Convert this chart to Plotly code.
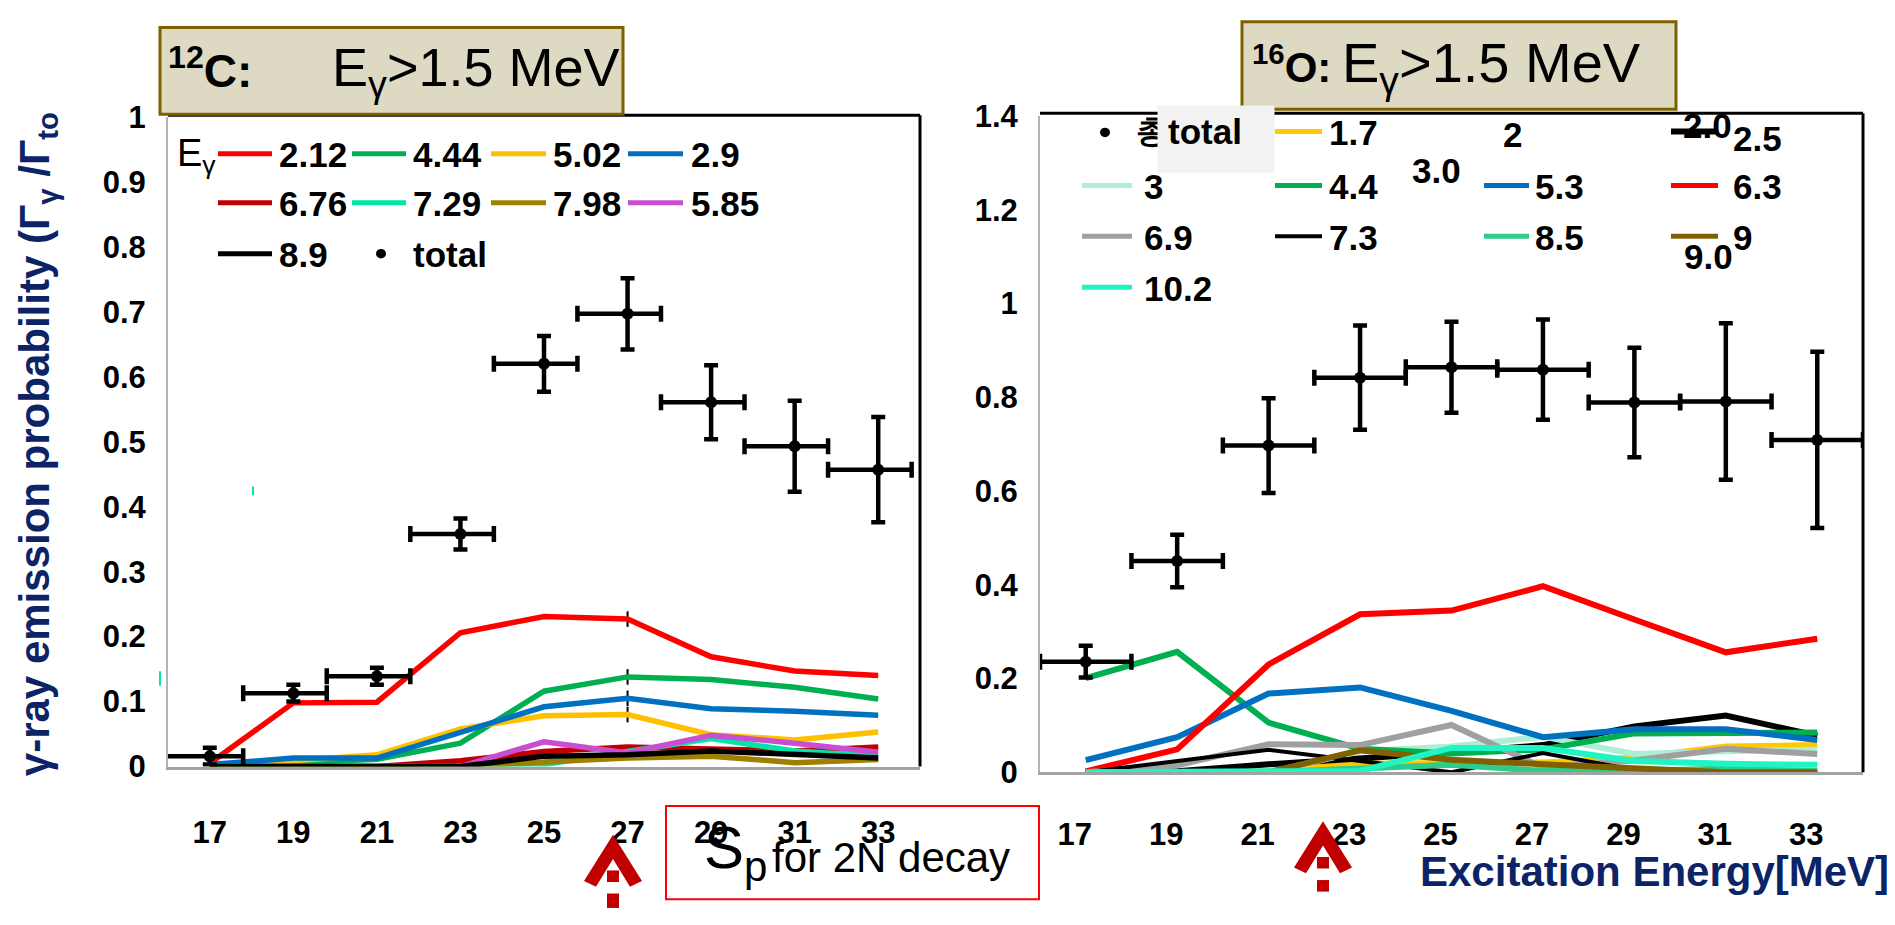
import plotly.graph_objects as go

W, H = 1895, 925

# excitation-energy bins [MeV]
energies = [17, 19, 21, 23, 25, 27, 29, 31, 33]

# ---- 12C : gamma-ray emission probability per transition (E_gamma > 1.5 MeV)
c12_labels = ["2.12", "4.44", "5.02", "2.9", "6.76", "7.29", "7.98", "5.85", "8.9"]
c12_212 = [0.005, 0.098, 0.099, 0.206, 0.231, 0.227, 0.169, 0.147, 0.140]
c12_444 = [0.0, 0.006, 0.011, 0.036, 0.116, 0.138, 0.134, 0.122, 0.104]
c12_502 = [0.0, 0.008, 0.018, 0.058, 0.078, 0.080, 0.049, 0.041, 0.053]
c12_29 = [0.003, 0.013, 0.013, 0.052, 0.092, 0.105, 0.089, 0.085, 0.079]
c12_676 = [0.0, 0.0, 0.0, 0.009, 0.023, 0.030, 0.026, 0.024, 0.030]
c12_729 = [0.0, 0.0, 0.0, 0.0, 0.003, 0.023, 0.043, 0.024, 0.016]
c12_798 = [0.0, 0.0, 0.0, 0.0, 0.007, 0.013, 0.016, 0.006, 0.011]
c12_585 = [None, None, None, 0.0, 0.038, 0.021, 0.048, 0.036, 0.022]
c12_89 = [0.0, 0.0, 0.0, 0.0, 0.016, 0.018, 0.024, 0.018, 0.013]
c12_series = [c12_212, c12_444, c12_502, c12_29, c12_676, c12_729, c12_798, c12_585, c12_89]

c12_total = [0.016, 0.113, 0.139, 0.358, 0.620, 0.697, 0.561, 0.493, 0.457]
c12_total_err = [0.013, 0.013, 0.013, 0.024, 0.043, 0.055, 0.057, 0.070, 0.081]
c12_bin_lo = [1.2, 1.2, 1.2, 1.2, 1.2, 1.2, 1.2, 1.2, 1.2]
c12_bin_hi = [0.8, 0.8, 0.8, 0.8, 0.8, 0.8, 0.8, 0.8, 0.8]
# short uncertainty marks drawn at 27 MeV on the four strongest lines
c12_mark_err = [0, 0, 0, 0, 0, 0.012, 0, 0, 0]

# ---- 16O : gamma-ray emission probability per transition (E_gamma > 1.5 MeV)
o16_labels = ["1.7", "2.5", "3", "4.4", "5.3", "6.3", "6.9", "7.3", "8.5", "9", "10.2"]
o16_17 = [0.0, 0.0, 0.003, 0.018, 0.020, 0.021, 0.031, 0.055, 0.058]
o16_25 = [0.0, 0.002, 0.017, 0.028, 0.042, 0.058, 0.098, 0.121, 0.078]
o16_3 = [0.0, 0.0, 0.0, 0.045, 0.055, 0.076, 0.039, 0.045, 0.048]
o16_44 = [0.201, 0.257, 0.106, 0.050, 0.040, 0.049, 0.083, 0.084, 0.085]
o16_53 = [0.026, 0.075, 0.168, 0.181, 0.131, 0.075, 0.092, 0.092, 0.069]
o16_63 = [0.002, 0.049, 0.230, 0.337, 0.345, 0.397, 0.326, 0.256, 0.285]
o16_69 = [0.0, 0.015, 0.060, 0.058, 0.101, 0.010, 0.025, 0.050, 0.039]
o16_73 = [0.0, 0.025, 0.048, 0.024, 0.0, 0.041, 0.005, 0.0, 0.0]
o16_85 = [0.0, 0.0, 0.0, 0.008, 0.016, 0.003, 0.003, 0.008, 0.003]
o16_9 = [0.0, 0.0, 0.0, 0.047, 0.027, 0.017, 0.010, 0.0, 0.0]
o16_102 = [0.0, 0.0, 0.0, 0.003, 0.052, 0.052, 0.024, 0.018, 0.016]
o16_series = [o16_17, o16_25, o16_3, o16_44, o16_53, o16_63, o16_69, o16_73, o16_85, o16_9, o16_102]

o16_total = [0.236, 0.451, 0.697, 0.842, 0.864, 0.859, 0.789, 0.791, 0.709]
o16_total_err = [0.034, 0.056, 0.101, 0.111, 0.097, 0.107, 0.117, 0.167, 0.188]
o16_bin_half = [1.0, 1.0, 1.0, 1.0, 1.0, 1.0, 1.0, 1.0, 1.0]

# ---- styles
c12_colors = {"2.12": "#ff0000", "4.44": "#00b050", "5.02": "#ffc000", "2.9": "#0070c0",
              "6.76": "#c00000", "7.29": "#00e6a6", "7.98": "#a08000", "5.85": "#c84fd2",
              "8.9": "#000000"}
o16_colors = {"1.7": "#ffc800", "2.5": "#000000", "3": "#aeeed4", "4.4": "#00b050",
              "5.3": "#0070c0", "6.3": "#ff0000", "6.9": "#a0a0a0", "7.3": "#000000",
              "8.5": "#2ecc8a", "9": "#806000", "10.2": "#1ef5c2"}
o16_widths = {"2.5": 6, "7.3": 4}
NAVY = "#0c2466"
SANS = "Liberation Sans"


def fx(x):
    return x / W


def fy(y):
    return 1 - y / H


fig = go.Figure()

for lab, vals in zip(c12_labels, c12_series):
    err = None
    if lab in ("2.12", "4.44", "5.02", "2.9"):
        err = dict(type="data", array=c12_mark_err, color="black", thickness=2, width=0)
    fig.add_trace(go.Scatter(x=energies, y=vals, mode="lines", xaxis="x", yaxis="y",
                             line=dict(color=c12_colors[lab], width=5.5),
                             error_y=err, hoverinfo="skip", name=lab))

fig.add_trace(go.Scatter(
    x=energies, y=c12_total, mode="markers", xaxis="x", yaxis="y", name="total",
    marker=dict(color="black", size=12), cliponaxis=False,
    error_y=dict(type="data", array=c12_total_err, color="black", thickness=4.5, width=7),
    error_x=dict(type="data", symmetric=False, array=c12_bin_hi, arrayminus=c12_bin_lo,
                 color="black", thickness=4.5, width=8)))

for lab, vals in zip(o16_labels, o16_series):
    fig.add_trace(go.Scatter(x=energies, y=vals, mode="lines", xaxis="x2", yaxis="y2",
                             line=dict(color=o16_colors[lab], width=o16_widths.get(lab, 6)),
                             hoverinfo="skip", name=lab))

fig.add_trace(go.Scatter(
    x=energies, y=o16_total, mode="markers", xaxis="x2", yaxis="y2", name="total",
    marker=dict(color="black", size=12), cliponaxis=False,
    error_y=dict(type="data", array=o16_total_err, color="black", thickness=4.5, width=7),
    error_x=dict(type="data", array=o16_bin_half, color="black", thickness=4.5, width=8)))

tickfont = dict(family=SANS, size=31, color="black", weight="bold")
axis_common = dict(showgrid=False, zeroline=False, showline=True, ticks="",
                   tickfont=tickfont)

fig.update_layout(
    width=W, height=H, margin=dict(l=0, r=0, t=0, b=0),
    paper_bgcolor="white", plot_bgcolor="white", showlegend=False,
    xaxis=dict(domain=[fx(168), fx(920)], range=[16, 34], tickvals=energies, anchor="y",
               linecolor="#a3a3a3", linewidth=3, ticklabelstandoff=36, **axis_common),
    yaxis=dict(domain=[fy(779), fy(104)], range=[0, 1], tick0=0, dtick=0.1, anchor="x",
               linecolor="#b3b3b3", linewidth=2, ticklabelstandoff=14, **axis_common),
    xaxis2=dict(domain=[fx(1040), fx(1863)], range=[16, 34], tickvals=energies, anchor="y2",
                linecolor="#a3a3a3", linewidth=3, ticklabelstandoff=33, ticklabelshift=-11,
                **axis_common),
    yaxis2=dict(domain=[fy(785), fy(103)], range=[0, 1.4], tick0=0, dtick=0.2, anchor="x2",
                linecolor="#b3b3b3", linewidth=2, ticklabelstandoff=14, **axis_common),
)

shapes = []
ann = []


def line(x0, y0, x1, y1, color, width):
    shapes.append(dict(type="line", xref="paper", yref="paper", x0=fx(x0), y0=fy(y0),
                       x1=fx(x1), y1=fy(y1), line=dict(color=color, width=width),
                       layer="above"))


def rect(x0, y0, x1, y1, fill=None, color=None, width=0):
    shapes.append(dict(type="rect", xref="paper", yref="paper", x0=fx(x0), y0=fy(y0),
                       x1=fx(x1), y1=fy(y1), fillcolor=fill or "rgba(0,0,0,0)",
                       line=dict(color=color or "rgba(0,0,0,0)", width=width),
                       layer="above"))


def poly(points, fill):
    path = "M " + " L ".join(f"{fx(x)},{fy(y)}" for x, y in points) + " Z"
    shapes.append(dict(type="path", xref="paper", yref="paper", path=path,
                       fillcolor=fill, line=dict(width=0), layer="above"))


def text(x, y, s, size, family=SANS, bold=True, color="black", anchor="left", **kw):
    ann.append(dict(xref="paper", yref="paper", x=fx(x), y=fy(y), text=s,
                    showarrow=False, xanchor=anchor, yanchor="middle",
                    font=dict(family=family, size=size, color=color,
                              weight="bold" if bold else "normal"), **kw))


# frame: black top and right edges of both panels
line(168, 102, 920, 102, "black", 3)
line(920, 102, 920, 779, "black", 3)
line(1040, 100, 1863, 100, "black", 3)
line(1863, 100, 1863, 785, "black", 3)

# panel titles
rect(160, 11, 623, 101, fill="#ddd9c3", color="#7f6000", width=3)
text(166, 53, "<sup>12</sup>C:", 46)
text(330, 56, "E<sub>γ</sub>&gt;1.5 MeV", 54, bold=False)
rect(1242, 5, 1676, 96, fill="#ddd9c3", color="#7f6000", width=3)
text(1250, 49, "<sup>16</sup>O:", 42)
text(1340, 51, "E<sub>γ</sub>&gt;1.5 MeV", 56, bold=False)

# 12C legend
LEG = 35
text(175, 144, "E<sub>γ</sub>", 38, bold=False)
cols_c = [(218, 272, 277), (352, 406, 411), (491, 546, 551), (628, 683, 689)]
rows_c = [142, 193, 246]
for i, lab in enumerate(c12_labels):
    r, c = divmod(i, 4)
    x0, x1, xt = cols_c[c]
    line(x0, rows_c[r], x1, rows_c[r], c12_colors[lab], 5)
    text(xt, rows_c[r] + 1, lab, LEG)
shapes.append(dict(type="circle", xref="paper", yref="paper", x0=fx(376), x1=fx(386),
                   y0=fy(241), y1=fy(251), fillcolor="black", line=dict(width=0),
                   layer="above"))
text(411, 247, "total", LEG)

# 16O legend
shapes.append(dict(type="circle", xref="paper", yref="paper", x0=fx(1100), x1=fx(1110),
                   y0=fy(115), y1=fy(125), fillcolor="black", line=dict(width=0),
                   layer="above"))
text(1134, 119, "총", 32)
ann.append(dict(xref="paper", yref="paper", x=fx(1157), y=fy(91), text=" ", showarrow=False,
                xanchor="left", yanchor="top", width=116, height=66, bgcolor="#f2f2f2",
                borderpad=0))
text(1166, 119, "total", LEG)
cols_o = [(1082, 1132, 1142), (1275, 1322, 1327), (1484, 1529, 1533), (1671, 1718, 1731)]
rows_o = [119, 175, 228, 281]
o16_slots = {"1.7": (0, 1), "2.5": (0, 3), "3": (1, 0), "4.4": (1, 1), "5.3": (1, 2),
             "6.3": (1, 3), "6.9": (2, 0), "7.3": (2, 1), "8.5": (2, 2), "9": (2, 3),
             "10.2": (3, 0)}
for lab in o16_labels:
    r, c = o16_slots[lab]
    x0, x1, xt = cols_o[c]
    line(x0, rows_o[r], x1, rows_o[r], o16_colors[lab], o16_widths.get(lab, 5))
    if lab != "2.5":
        text(xt, rows_o[r] + 1, lab, LEG)
text(1501, 122, "2", LEG)
text(1681, 113, "2.0", LEG)
text(1731, 126, "2.5", LEG)
text(1410, 160, "3.0", LEG)
text(1682, 249, "9.0", LEG)

# axis titles
text(37, 444, "γ-ray emission probability (Γ<sub>γ</sub> /Γ<sub>to</sub>", 42,
     color=NAVY, anchor="center", textangle=-90)
text(1418, 888, "Excitation Energy[MeV]", 42, color=NAVY)

# separation-energy note and arrows
rect(666, 820, 1039, 917, color="#ff0000", width=2)
text(702, 868, "S<sub>p</sub>", 60, bold=False)
text(770, 874, "for 2N decay", 42, bold=False)

DR = "#c00000"
for ax, top in [(613, 850), (1323, 836)]:
    poly([(ax, top), (ax - 29, top + 48), (ax - 17, top + 54), (ax, top + 25),
          (ax + 17, top + 54), (ax + 29, top + 48)], DR)
rect(607, 887, 619, 899, fill=DR)
rect(607, 911, 619, 926, fill=DR)
rect(1317, 873, 1329, 885, fill=DR)
rect(1317, 897, 1329, 909, fill=DR)

# faint marks left over in the 12C panel
line(253, 488, 253, 497, "#00e6a6", 2)
line(160, 680, 160, 695, "#00e6a6", 2)

fig.update_layout(shapes=shapes, annotations=ann)
fig.write_html("out.html")
